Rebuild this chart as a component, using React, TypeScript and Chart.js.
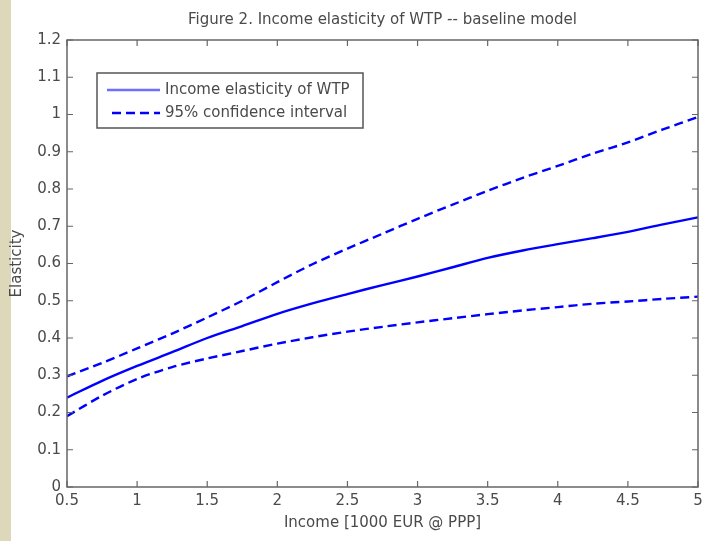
import React, { useEffect, useRef } from "react";
import { Chart, registerables } from "chart.js";

Chart.register(...registerables);

const incomeValues = [0.5, 0.75, 1.0, 1.25, 1.5, 1.75, 2.0, 2.25, 2.5, 2.75, 3.0, 3.25, 3.5, 3.75, 4.0, 4.25, 4.5, 4.75, 5.0];
const elasticityValues = [0.240, 0.285, 0.325, 0.362, 0.400, 0.432, 0.465, 0.493, 0.518, 0.542, 0.565, 0.590, 0.615, 0.635, 0.652, 0.668, 0.685, 0.705, 0.724];
const upperValues = [0.297, 0.333, 0.372, 0.412, 0.455, 0.500, 0.550, 0.598, 0.640, 0.680, 0.720, 0.758, 0.795, 0.830, 0.862, 0.895, 0.925, 0.960, 0.993];
const lowerValues = [0.190, 0.245, 0.290, 0.322, 0.345, 0.365, 0.385, 0.402, 0.417, 0.430, 0.442, 0.453, 0.464, 0.474, 0.483, 0.492, 0.498, 0.505, 0.511];
const xTickValues = [0.5, 1, 1.5, 2, 2.5, 3, 3.5, 4, 4.5, 5];
const yTickValues = [0, 0.1, 0.2, 0.3, 0.4, 0.5, 0.6, 0.7, 0.8, 0.9, 1, 1.1, 1.2];

const titleText = "Figure 2. Income elasticity of WTP -- baseline model";
const xTitle = "Income [1000 EUR @ PPP]";
const yTitle = "Elasticity";
const fitLabel = "Income elasticity of WTP";
const ciLabel = "95% confidence interval";

const FONT = "'DejaVu Sans', 'Liberation Sans', Arial, sans-serif";
const TEXT = "#4a4a4a";

const pts = (ys: number[]) => incomeValues.map((x, i) => ({ x, y: ys[i] }));

const framePlugin = {
  id: "frame",
  afterDatasetsDraw(chart: any) {
    const { ctx, chartArea: a, scales } = chart;
    ctx.save();
    ctx.strokeStyle = "#666";
    ctx.lineWidth = 1.5;
    ctx.strokeRect(a.left, a.top, a.right - a.left, a.bottom - a.top);
    ctx.lineWidth = 1.2;
    const tl = 6;
    ctx.beginPath();
    scales.x.ticks.forEach((t: any) => {
      const px = scales.x.getPixelForValue(t.value);
      ctx.moveTo(px, a.bottom);
      ctx.lineTo(px, a.bottom - tl);
      ctx.moveTo(px, a.top);
      ctx.lineTo(px, a.top + tl);
    });
    scales.y.ticks.forEach((t: any) => {
      const py = scales.y.getPixelForValue(t.value);
      ctx.moveTo(a.left, py);
      ctx.lineTo(a.left + tl, py);
      ctx.moveTo(a.right, py);
      ctx.lineTo(a.right - tl, py);
    });
    ctx.stroke();

    // title
    ctx.fillStyle = TEXT;
    ctx.font = `15px ${FONT}`;
    ctx.textAlign = "center";
    ctx.textBaseline = "middle";
    ctx.fillText(titleText, (a.left + a.right) / 2, 20);

    // legend
    const lx = 97, ly = 73, lw = 266, lh = 55;
    ctx.fillStyle = "#fff";
    ctx.fillRect(lx, ly, lw, lh);
    ctx.strokeStyle = "#555";
    ctx.lineWidth = 1.5;
    ctx.strokeRect(lx, ly, lw, lh);
    const rows = [
      { label: fitLabel, color: "#6e6eff", dash: [] as number[], y: 90, x0: 107, x1: 160 },
      { label: ciLabel, color: "#0000ff", dash: [9, 5], y: 113, x0: 112, x1: 160 },
    ];
    rows.forEach((r) => {
      ctx.save();
      ctx.strokeStyle = r.color;
      ctx.lineWidth = 2.5;
      ctx.setLineDash(r.dash);
      ctx.beginPath();
      ctx.moveTo(r.x0, r.y);
      ctx.lineTo(r.x1, r.y);
      ctx.stroke();
      ctx.restore();
      ctx.fillStyle = TEXT;
      ctx.textAlign = "left";
      ctx.fillText(r.label, 165, r.y);
    });
    ctx.restore();
  },
};

export default function App() {
  const ref = useRef<HTMLCanvasElement | null>(null);
  useEffect(() => {
    if (!ref.current) return;
    const chart = new Chart(ref.current, {
      type: "line",
      data: {
        datasets: [
          {
            label: fitLabel,
            data: pts(elasticityValues),
            borderColor: "#0000ff",
            borderWidth: 2.4,
            pointRadius: 0,
            tension: 0.3,
            fill: false,
          },
          {
            label: ciLabel,
            data: pts(upperValues),
            borderColor: "#0000ff",
            borderWidth: 2.4,
            borderDash: [9, 5],
            pointRadius: 0,
            tension: 0.3,
            fill: false,
          },
          {
            label: ciLabel,
            data: pts(lowerValues),
            borderColor: "#0000ff",
            borderWidth: 2.4,
            borderDash: [9, 5],
            pointRadius: 0,
            tension: 0.3,
            fill: false,
          },
        ],
      },
      options: {
        animation: false,
        responsive: false,
        layout: { padding: { left: 0, right: 13, top: 40, bottom: 0 } },
        plugins: { legend: { display: false }, tooltip: { enabled: false }, title: { display: false } },
        scales: {
          x: {
            type: "linear",
            min: 0.5,
            max: 5,
            afterBuildTicks: (s: any) => {
              s.ticks = xTickValues.map((v) => ({ value: v }));
            },
            afterFit: (s: any) => {
              s.height = 54;
            },
            grid: { display: false, drawTicks: false },
            border: { display: false },
            ticks: {
              color: TEXT,
              font: { family: FONT, size: 15 },
              padding: 5,
              maxRotation: 0,
              autoSkip: false,
              callback: (v: any) => String(v),
            },
            title: {
              display: true,
              text: xTitle,
              color: TEXT,
              font: { family: FONT, size: 15 },
              padding: { top: 0, bottom: 9 },
            },
          },
          y: {
            type: "linear",
            min: 0,
            max: 1.2,
            afterBuildTicks: (s: any) => {
              s.ticks = yTickValues.map((v) => ({ value: v }));
            },
            afterFit: (s: any) => {
              s.width = 67;
            },
            grid: { display: false, drawTicks: false },
            border: { display: false },
            ticks: {
              color: TEXT,
              font: { family: FONT, size: 15 },
              padding: 6,
              autoSkip: false,
              callback: (v: any) => String(Math.round(v * 10) / 10),
            },
            title: {
              display: true,
              text: yTitle,
              color: TEXT,
              font: { family: FONT, size: 15 },
              padding: { top: 8, bottom: 0 },
            },
          },
        },
      },
      plugins: [framePlugin],
    });
    return () => chart.destroy();
  }, []);

  return (
    <div style={{ position: "fixed", left: 0, top: 0, width: 711, height: 541, background: "#fff", overflow: "hidden" }}>
      <div style={{ position: "absolute", left: 0, top: 0, width: 11, height: 541, background: "#ddd8ba" }} />
      <canvas ref={ref} width={711} height={541} style={{ position: "absolute", left: 0, top: 0, display: "block" }} />
    </div>
  );
}
